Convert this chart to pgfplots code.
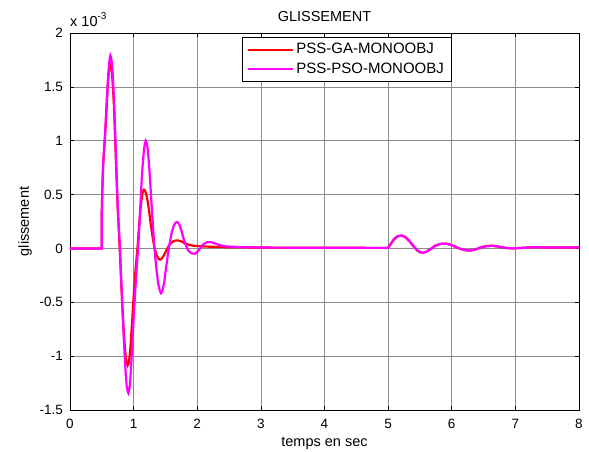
\documentclass[border=0pt]{standalone}
\usepackage{pgfplots}
\pgfplotsset{compat=1.18}
\usepackage{fontspec}
\setmainfont{Liberation Sans}
\definecolor{mred}{RGB}{255,0,0}
\definecolor{mmag}{RGB}{255,0,255}
\begin{document}
\fontsize{14.5}{17}\selectfont
\begin{tikzpicture}
\useasboundingbox (-70pt,-42pt) rectangle (519pt,410pt);
\begin{axis}[
  at={(0pt,0pt)}, anchor=south west,
  scale only axis, width=509pt, height=377pt,
  xmin=0, xmax=8, ymin=-1.5, ymax=2,
  xtick={0,1,...,8}, ytick={-1.5,-1,-0.5,0,0.5,1,1.5,2},
  grid=major, major grid style={black!45, line width=0.6pt},
  tick align=inside, major tick length=4pt,
  axis line style={black, line width=0.7pt},
  tick style={black, line width=0.6pt},
  /pgf/number format/assume math mode=true,
  ticklabel style={font=\fontsize{13.5}{16}\selectfont},
  xticklabel style={inner sep=0pt, yshift=-9pt},
  yticklabel style={inner sep=0pt, xshift=-7pt},
  clip=false,
  title={GLISSEMENT},
  title style={at={(axis description cs:0.5,1)}, anchor=south, inner sep=0pt, yshift=5pt, font=\fontsize{14.5}{17}\selectfont},
  xlabel={temps en sec},
  xlabel style={at={(axis description cs:0.5,0)}, anchor=north, inner sep=0pt, yshift=-27pt, font=\fontsize{14.5}{17}\selectfont},
  ylabel={glissement},
  ylabel style={at={(axis description cs:-0.102,0.5)}, rotate=0, anchor=north, inner sep=0pt, font=\fontsize{14.5}{17}\selectfont},
  legend style={at={(axis description cs:0.338,0.989)}, anchor=north west,
    draw=black, line width=0.7pt, fill=white,
    font=\fontsize{15}{17}\selectfont, inner xsep=5pt, inner ysep=4pt,
    row sep=3pt},
  legend cell align=left,
  legend image code/.code={\draw[#1, line width=2pt] (0pt,0pt) -- (45pt,0pt);},
]
\addplot[mred, line width=2.2pt] coordinates {
(0,0) (0.498,0) (0.5,0.33) (0.51,0.58) (0.52,0.76) (0.535,0.9) (0.55,1.03) (0.565,1.19) (0.58,1.36) (0.595,1.52) (0.61,1.63) (0.622,1.7) (0.632,1.72) (0.645,1.7) (0.66,1.63) (0.675,1.5) (0.69,1.33) (0.705,1.1) (0.72,0.85) (0.735,0.6) (0.75,0.37) (0.768,0.15) (0.785,-0.05) (0.80,-0.25) (0.82,-0.5) (0.84,-0.72) (0.86,-0.9) (0.875,-1.0) (0.89,-1.06) (0.906,-1.086) (0.92,-1.07) (0.935,-1.01) (0.95,-0.92) (0.97,-0.74) (1.0,-0.45) (1.03,-0.2) (1.06,0) (1.085,0.2) (1.11,0.38) (1.135,0.5) (1.15,0.535) (1.163,0.545) (1.18,0.535) (1.2,0.5) (1.22,0.44) (1.245,0.34) (1.27,0.22) (1.3,0.1) (1.33,0.0) (1.36,-0.06) (1.39,-0.095) (1.415,-0.105) (1.44,-0.095) (1.47,-0.07) (1.5,-0.035) (1.54,0.01) (1.58,0.045) (1.62,0.065) (1.66,0.073) (1.70,0.074) (1.75,0.065) (1.8,0.05) (1.86,0.035) (1.94,0.025) (2.1,0.018) (2.4,0.012) (3,0.008) (4,0.006) (5,0.005)
(5.05,0.05) (5.1,0.09) (5.15,0.113) (5.21,0.12) (5.27,0.105) (5.33,0.07) (5.4,0.02) (5.46,-0.02) (5.51,-0.037) (5.55,-0.04) (5.6,-0.03) (5.67,-0.005) (5.74,0.025) (5.82,0.042) (5.9,0.045) (5.98,0.035) (6.06,0.015) (6.14,-0.005) (6.22,-0.017) (6.29,-0.02) (6.37,-0.01) (6.45,0.008) (6.54,0.021) (6.63,0.025) (6.72,0.018) (6.82,0.007) (6.95,0.0) (7.1,0.005) (7.3,0.012) (7.5,0.008) (7.8,0.008) (8,0.008)
};
\addlegendentry{PSS-GA-MONOOBJ}
\addplot[mmag, line width=2.2pt] coordinates {
(0,0) (0.498,0) (0.5,0.35) (0.51,0.6) (0.52,0.78) (0.535,0.92) (0.55,1.05) (0.565,1.22) (0.58,1.4) (0.595,1.56) (0.61,1.68) (0.623,1.76) (0.635,1.79) (0.648,1.77) (0.66,1.71) (0.675,1.58) (0.69,1.4) (0.705,1.16) (0.72,0.9) (0.735,0.65) (0.75,0.4) (0.768,0.2) (0.786,0) (0.80,-0.22) (0.82,-0.5) (0.84,-0.77) (0.86,-1.0) (0.875,-1.16) (0.89,-1.27) (0.903,-1.32) (0.917,-1.343) (0.93,-1.32) (0.945,-1.25) (0.97,-1.0) (1.0,-0.65) (1.035,-0.3) (1.07,0) (1.09,0.2) (1.11,0.45) (1.135,0.72) (1.16,0.9) (1.175,0.97) (1.19,1.0) (1.205,0.98) (1.22,0.93) (1.24,0.8) (1.26,0.62) (1.285,0.38) (1.31,0.15) (1.335,-0.05) (1.36,-0.2) (1.385,-0.32) (1.41,-0.39) (1.43,-0.415) (1.45,-0.4) (1.48,-0.32) (1.51,-0.18) (1.54,-0.05) (1.57,0.06) (1.60,0.15) (1.63,0.21) (1.66,0.24) (1.69,0.245) (1.72,0.22) (1.75,0.17) (1.78,0.1) (1.82,0.03) (1.86,-0.02) (1.91,-0.045) (1.965,-0.05) (2.02,-0.02) (2.08,0.03) (2.14,0.055) (2.2,0.06) (2.27,0.05) (2.35,0.03) (2.46,0.018) (2.7,0.012) (3,0.008) (4,0.006) (5,0.005)
(5.05,0.05) (5.1,0.09) (5.15,0.113) (5.21,0.12) (5.27,0.105) (5.33,0.07) (5.4,0.02) (5.46,-0.02) (5.51,-0.037) (5.55,-0.04) (5.6,-0.03) (5.67,-0.005) (5.74,0.025) (5.82,0.042) (5.9,0.045) (5.98,0.035) (6.06,0.015) (6.14,-0.005) (6.22,-0.017) (6.29,-0.02) (6.37,-0.01) (6.45,0.008) (6.54,0.021) (6.63,0.025) (6.72,0.018) (6.82,0.007) (6.95,0.0) (7.1,0.005) (7.3,0.012) (7.5,0.008) (7.8,0.008) (8,0.008)
};
\addlegendentry{PSS-PSO-MONOOBJ}
\node[anchor=base west, inner sep=0pt] at (rel axis cs:0,1) [yshift=6pt] {x 10\raisebox{7pt}{\fontsize{10}{10}\selectfont -3}};
\end{axis}
\end{tikzpicture}
\end{document}
